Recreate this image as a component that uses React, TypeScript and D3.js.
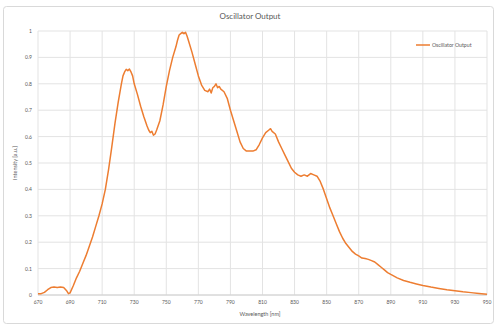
import React from "react";
import * as d3 from "d3";

const wavelengths: number[] = [
  670, 672, 674, 676, 678, 680, 682, 684, 686, 688, 689, 690, 692, 694, 696, 698,
  700, 702, 704, 706, 708, 710, 712, 714, 716, 718, 720, 722, 723, 724, 725, 726,
  727, 728, 729, 730, 732, 734, 736, 738, 739, 740, 741, 742, 743, 744, 746, 748,
  750, 752, 754, 756, 757, 758, 759, 760, 761, 762, 763, 764, 766, 768, 770, 772,
  774, 776, 777, 778, 779, 780, 781, 782, 783, 784, 786, 788, 790, 792, 794, 796,
  798, 800, 802, 804, 806, 808, 810, 812, 814, 815, 816, 818, 820, 822, 824, 826,
  828, 830, 832, 834, 836, 838, 840, 842, 844, 846, 848, 850, 852, 854, 856, 858,
  860, 862, 864, 866, 868, 870, 872, 874, 876, 878, 880, 882, 884, 886, 888, 890,
  894, 898, 902, 906, 910, 915, 920, 925, 930, 935, 940, 945, 950,
];

const intensity: number[] = [
  0.005, 0.005, 0.01, 0.02, 0.028, 0.03, 0.028, 0.03, 0.028, 0.015, 0.005, 0.008, 0.035, 0.065, 0.09, 0.12,
  0.15, 0.185, 0.22, 0.26, 0.3, 0.345, 0.4, 0.475, 0.56, 0.65, 0.73, 0.8, 0.83, 0.845, 0.855, 0.85,
  0.856, 0.845, 0.83, 0.8, 0.76, 0.715, 0.675, 0.64, 0.625, 0.615, 0.62, 0.605, 0.61, 0.625, 0.66, 0.72,
  0.79, 0.85, 0.9, 0.94, 0.965, 0.985, 0.99, 0.995, 0.99, 0.995, 0.98, 0.96, 0.92, 0.875, 0.83, 0.795,
  0.775, 0.77, 0.78, 0.765, 0.785, 0.79, 0.8, 0.785, 0.79, 0.78, 0.77, 0.745, 0.7, 0.66, 0.62, 0.58,
  0.555, 0.545, 0.545, 0.545, 0.55, 0.57, 0.595, 0.615, 0.625, 0.63, 0.62, 0.61, 0.58, 0.555, 0.53, 0.505,
  0.48, 0.465, 0.455, 0.45, 0.455, 0.45, 0.46, 0.455, 0.45, 0.43, 0.4, 0.365, 0.33, 0.3, 0.27, 0.24,
  0.215, 0.195, 0.18, 0.165, 0.155, 0.148, 0.14, 0.138, 0.135, 0.13, 0.125, 0.115, 0.105, 0.095, 0.085, 0.078,
  0.065, 0.055, 0.048, 0.042, 0.036, 0.03, 0.025, 0.02, 0.016, 0.012, 0.009, 0.006, 0.003,
];

const xTicks: number[] = [670, 690, 710, 730, 750, 770, 790, 810, 830, 850, 870, 890, 910, 930, 950];
const yTicks: number[] = [0, 0.1, 0.2, 0.3, 0.4, 0.5, 0.6, 0.7, 0.8, 0.9, 1];

const title = "Oscillator Output";
const seriesName = "Oscillator Output";
const xTitle = "Wavelength [nm]";
const yTitle = "Intensity [a.u.]";

const W = 497;
const H = 327;
const plot = { left: 38, right: 487, top: 31, bottom: 295 };
const FONT = "Lato, 'Open Sans', sans-serif";
const TEXT = "#595959";
const GRID = "#e3e3e3";
const ORANGE = "#ED7D31";

export default function App() {
  const x = d3.scaleLinear().domain([670, 950]).range([plot.left, plot.right]);
  const y = d3.scaleLinear().domain([0, 1]).range([plot.bottom, plot.top]);
  const pts: [number, number][] = wavelengths.map((w, i) => [w, intensity[i]]);
  const line = d3
    .line<[number, number]>()
    .x((d) => x(d[0]))
    .y((d) => y(d[1]))
    .curve(d3.curveLinear);
  const path = line(pts) || "";

  return (
    <svg
      width={W}
      height={H}
      style={{ position: "absolute", left: 0, top: 0, display: "block", background: "#fff" }}
    >
      <rect x={3.5} y={6.5} width={490} height={317} rx={3} fill="#fff" stroke="#d9d9d9" strokeWidth={1} />
      <text x={250} y={19} textAnchor="middle" fontFamily={FONT} fontSize={8} fill={TEXT}>
        {title}
      </text>
      {yTicks.map((t) => (
        <line key={"gy" + t} x1={plot.left} x2={plot.right} y1={y(t)} y2={y(t)} stroke={GRID} strokeWidth={1} />
      ))}
      {xTicks.map((t) => (
        <line key={"gx" + t} x1={x(t)} x2={x(t)} y1={plot.top} y2={plot.bottom} stroke={GRID} strokeWidth={1} />
      ))}
      <line x1={plot.left} x2={plot.right} y1={plot.bottom} y2={plot.bottom} stroke="#d0d0d0" strokeWidth={1} />
      {yTicks.map((t) => (
        <text
          key={"ty" + t}
          x={plot.left - 6}
          y={y(t) + 2}
          textAnchor="end"
          fontFamily={FONT}
          fontSize={5}
          fill={TEXT}
        >
          {d3.format("")(+t.toFixed(1))}
        </text>
      ))}
      {xTicks.map((t) => (
        <text key={"tx" + t} x={x(t)} y={304} textAnchor="middle" fontFamily={FONT} fontSize={5} fill={TEXT}>
          {t}
        </text>
      ))}
      <text x={260} y={316} textAnchor="middle" fontFamily={FONT} fontSize={5.5} fill={TEXT}>
        {xTitle}
      </text>
      <text
        transform={`translate(17,${(plot.top + plot.bottom) / 2}) rotate(-90)`}
        textAnchor="middle"
        fontFamily={FONT}
        fontSize={5.5}
        fill={TEXT}
      >
        {yTitle}
      </text>
      <path d={path} fill="none" stroke={ORANGE} strokeWidth={1.5} strokeLinejoin="round" />
      <line x1={416} x2={430} y1={45} y2={45} stroke={ORANGE} strokeWidth={1.5} />
      <text x={432} y={47} fontFamily={FONT} fontSize={5.2} fill={TEXT}>
        {seriesName}
      </text>
    </svg>
  );
}
